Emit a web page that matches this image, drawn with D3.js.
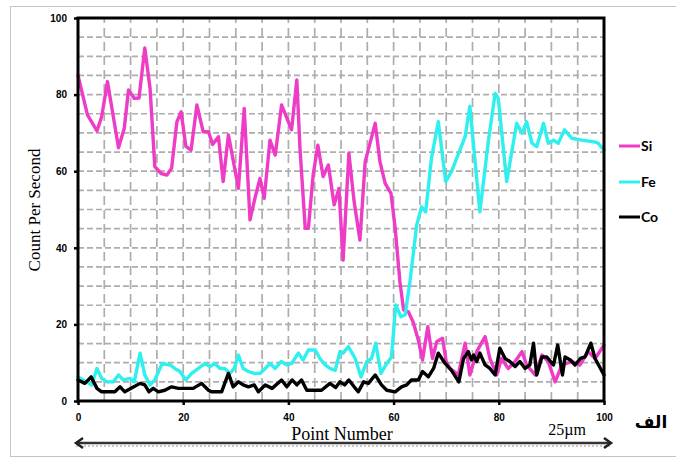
<!DOCTYPE html>
<html>
<head>
<meta charset="utf-8">
<script src="https://cdn.jsdelivr.net/npm/d3@7"></script>
<style>
    body { margin: 0; background: #fff; }
    svg { display: block; }
</style>
</head>
<body>
<div id="chart"></div>
<script>
// Tick labels
const xTicks = [0, 20, 40, 60, 80, 100];
const yTicks = [0, 20, 40, 60, 80, 100];
const gridSteps = d3.range(0, 101, 5);

// Series names
const seriesNames = ['Si', 'Fe', 'Co'];

// [point number, count per second]
const siData = [
    [0, 85], [1.8, 74.7], [3.6, 70.5], [4.5, 74.2], [5.6, 83.4], [7.7, 66.1], [8.8, 71.2], [9.6, 81.2],
    [10.7, 79], [11.6, 79.1], [12.7, 92.2], [13.7, 81.6], [14.6, 61.2], [15.8, 59.4], [16.9, 59],
    [17.8, 60.8], [18.8, 72.9], [19.6, 75.5], [20.5, 66.5], [21.5, 65.5], [22.6, 77.3], [23.8, 70.3],
    [24.8, 70.3], [25.6, 67], [26.7, 69], [27.6, 57.3], [28.6, 69.5], [30.5, 55.5], [31.6, 76.4],
    [32.7, 47.3], [33.7, 53.3], [34.6, 58.1], [35.4, 52.9], [36.5, 68.1], [37.5, 64.2], [38.7, 77.3],
    [40.6, 70.8], [41.6, 83.8], [42.2, 66], [43.2, 45.1], [43.8, 45.1], [44.7, 59], [45.6, 66.8],
    [46.6, 58.6], [47.6, 61.6], [48.7, 51.2], [49.6, 55.5], [50.4, 36.8], [51.5, 64.7], [52.5, 52],
    [53.6, 42], [54.6, 62.5], [56.5, 72.5], [57.4, 62.5], [58.4, 56.8], [59.5, 54.2], [60.3, 45.1],
    [61.2, 31.1], [61.9, 23.8], [62.8, 23.3], [63.7, 20.7], [64.7, 15.9], [65.5, 10.7], [66.5, 19.4],
    [67.4, 11.1], [68.2, 15.5], [69.3, 16.4], [70, 10.3], [70.7, 8.5], [72.3, 6.8], [73.6, 15.1],
    [74.5, 6.8], [75.8, 12.9], [77.4, 16.8], [78.3, 11.1], [79.6, 6.8], [80.5, 11.1], [81.8, 8.5],
    [83.1, 10.3], [84.4, 12.9], [85.3, 9.4], [86.9, 6.8], [88.2, 12], [89.4, 10.3], [90.7, 5],
    [92, 9.4], [93.9, 10.3], [95.4, 9.4], [97, 12.9], [98.3, 11.1], [100, 14.6]
];

const feData = [
    [0, 6.3], [1.6, 5], [2.6, 4.2], [3.6, 8.5], [4.5, 5.9], [5.5, 5], [6.7, 5], [7.7, 6.8], [8.6, 5.5],
    [9.9, 5.9], [10.7, 5], [11.8, 12.5], [12.7, 6.8], [13.7, 4.2], [14.6, 5.5], [16, 9.8], [17.5, 9.4],
    [18.4, 8.5], [19.4, 7.7], [20.5, 5.5], [21.6, 7.2], [22.9, 8.5], [24.1, 9.8], [25.1, 9], [26, 9.8],
    [27, 8.5], [27.9, 8.5], [28.9, 7.2], [29.7, 8.5], [30.5, 12], [31.4, 8.5], [32.4, 7.7], [33.5, 7.2],
    [34.6, 7.2], [35.6, 8.5], [36.5, 9.8], [37.5, 8.5], [38.6, 10.3], [39.7, 9.4], [40.6, 9.8],
    [41.9, 12.5], [42.8, 10.7], [43.8, 13.3], [45.1, 13.3], [46, 11.1], [47, 9.4], [47.9, 8.5],
    [48.9, 8], [49.8, 12.9], [50.4, 12.5], [51.4, 14.2], [52.7, 11.1], [53.8, 6.3], [54.9, 10.3],
    [55.8, 11.1], [56.6, 15.1], [57.6, 7.2], [58.7, 9.8], [59.6, 11.5], [60.4, 25.1], [61.4, 22],
    [62.2, 22.5], [63.1, 31.1], [64.4, 46], [65.3, 50.7], [66.1, 49.4], [67.2, 63.4], [68.5, 72.9],
    [69.9, 57.3], [71, 59.9], [72.6, 65.5], [73.6, 69], [74.5, 77], [76.4, 49.4], [78, 67.7],
    [79.3, 80.3], [79.9, 79], [81.5, 57.3], [83.4, 72.5], [84.4, 69.9], [85.3, 72.9], [86.3, 67.3],
    [87.2, 66.4], [88.5, 72.5], [89.4, 67.3], [90.4, 68.1], [91.3, 67.3], [92.5, 70.8], [93.9, 68.6],
    [95.8, 68.1], [98, 67.7], [98.9, 67.3], [100, 65.5]
];

const coData = [
    [0, 5.5], [1.3, 4.6], [2.5, 6.3], [3.6, 3.3], [4.5, 2.4], [7, 2.4], [8, 3.7], [8.9, 2.4], [10.1, 3.3],
    [11.8, 4.6], [12.7, 4.2], [13.5, 2.4], [14.3, 3.3], [15.3, 2.4], [16.5, 2.8], [17.8, 3.7],
    [19.1, 3.3], [21.9, 3.3], [23.5, 4.6], [24.8, 2.8], [25.4, 2.4], [27.3, 2.4], [28.6, 7.2],
    [29.5, 3.7], [30.5, 5], [31.4, 4.2], [32.4, 3.7], [33.5, 4.2], [34.3, 2.4], [35.6, 4.2], [36.9, 3.3],
    [38.7, 5.5], [39.7, 3.7], [40.7, 5.5], [41.6, 4.2], [42.5, 5.5], [43.5, 2.8], [46.3, 2.8],
    [47.9, 4.6], [49, 3.5], [49.8, 5], [50.7, 4.2], [51.5, 5.5], [52.5, 3.7], [53.3, 2.4], [54.3, 5],
    [55.2, 4.6], [56.5, 6.8], [57.7, 4.2], [58.7, 2.8], [60.3, 2.4], [61.5, 3.7], [62.5, 4.2],
    [63.4, 5.5], [64.7, 5.5], [65.5, 7.7], [66.6, 6.3], [67.6, 8.5], [68.5, 12.5], [69.8, 9.8],
    [71, 8], [72.4, 5], [73.3, 11.1], [74.2, 12.9], [74.8, 10.7], [75.2, 12], [75.8, 10.3],
    [76.4, 12.5], [77.4, 9.4], [78.3, 8.5], [79.3, 6.8], [80.2, 13.8], [81.2, 11.1], [82.1, 10.3],
    [83.1, 9], [84, 10.3], [85, 8.5], [85.9, 9.4], [86.6, 15.1], [87.2, 6.8], [88.2, 11.5], [89.1, 11.5],
    [90.4, 9.4], [91.2, 14.6], [92.1, 6.8], [92.6, 11.5], [93.6, 10.7], [94.5, 9.4], [95.5, 11.1],
    [96.4, 11.5], [97.5, 15.1], [98.3, 11.1], [100, 6.8]
];

const seriesColors = ['#ee3cc6', '#2ff0ee', '#000000'];

const width = 676;
const height = 461;

const svg = d3.select('#chart')
    .append('svg')
    .attr('width', width)
    .attr('height', height);

// Outer frame
svg.append('rect')
    .attr('x', 10.5)
    .attr('y', 6.5)
    .attr('width', 700)
    .attr('height', 450)
    .attr('fill', 'none')
    .attr('stroke', '#c4c4c4');

// Scales
const x = d3.scaleLinear().domain([0, 100]).range([78, 604]);
const y = d3.scaleLinear().domain([0, 100]).range([401, 18]);

// Dashed grid
const grid = svg.append('g').attr('class', 'grid')
    .attr('stroke', '#adadad')
    .attr('stroke-width', 1.7);

grid.selectAll('line.h')
    .data(gridSteps)
    .join('line')
    .attr('class', 'h')
    .attr('x1', x(0))
    .attr('x2', x(100))
    .attr('y1', d => y(d))
    .attr('y2', d => y(d))
    .attr('stroke-dasharray', '6,3');

grid.selectAll('line.v')
    .data(gridSteps)
    .join('line')
    .attr('class', 'v')
    .attr('y1', y(0))
    .attr('y2', y(100))
    .attr('x1', d => x(d))
    .attr('x2', d => x(d))
    .attr('stroke-dasharray', '9,5');

// Lines
const line = d3.line()
    .x(d => x(d[0]))
    .y(d => y(d[1]));

const allSeries = [siData, feData, coData];

svg.append('g')
    .attr('class', 'lines')
    .selectAll('path')
    .data(allSeries)
    .join('path')
    .attr('d', line)
    .attr('fill', 'none')
    .attr('stroke', (d, i) => seriesColors[i])
    .attr('stroke-width', 3.4)
    .attr('stroke-linejoin', 'round')
    .attr('stroke-linecap', 'round');

// Plot frame
svg.append('rect')
    .attr('x', x(0))
    .attr('y', y(100))
    .attr('width', x(100) - x(0))
    .attr('height', y(0) - y(100))
    .attr('fill', 'none')
    .attr('stroke', '#000')
    .attr('stroke-width', 3);

// Axes
const yAxis = svg.append('g')
    .attr('transform', `translate(${x(0)},0)`)
    .call(d3.axisLeft(y).tickValues(yTicks).tickSize(4).tickPadding(7));

const xAxis = svg.append('g')
    .attr('transform', `translate(0,${y(0)})`)
    .call(d3.axisBottom(x).tickValues(xTicks).tickSize(4).tickPadding(9));

[xAxis, yAxis].forEach(axis => {
    axis.select('.domain').remove();
    axis.selectAll('.tick line').attr('stroke', '#000').attr('stroke-width', 2.5);
    axis.selectAll('.tick text')
        .attr('fill', '#000')
        .style('font-family', '"Liberation Sans", Arial, sans-serif')
        .style('font-size', '10px')
        .style('font-weight', 'bold');
});

// Y axis title
svg.append('text')
    .attr('transform', 'translate(40,210) rotate(-90)')
    .attr('text-anchor', 'middle')
    .style('font-family', '"Liberation Serif", "Times New Roman", serif')
    .style('font-size', '17px')
    .text('Count Per Second');

// Bottom arrow
const arrowY = 443;
svg.append('line')
    .attr('x1', x(0) - 2)
    .attr('x2', x(100) + 7)
    .attr('y1', arrowY + 3)
    .attr('y2', arrowY + 3)
    .attr('stroke', '#c8c8c8')
    .attr('stroke-width', 2)
    .attr('stroke-dasharray', '2,2');

svg.append('line')
    .attr('x1', x(0) - 2)
    .attr('x2', x(100) + 7)
    .attr('y1', arrowY)
    .attr('y2', arrowY)
    .attr('stroke', '#333')
    .attr('stroke-width', 2.5);

svg.append('path')
    .attr('d', `M${x(0) + 5},${arrowY - 5}L${x(0) - 2},${arrowY}L${x(0) + 5},${arrowY + 5}`
        + `M${x(100)},${arrowY - 5}L${x(100) + 7},${arrowY}L${x(100)},${arrowY + 5}`)
    .attr('fill', 'none')
    .attr('stroke', '#222')
    .attr('stroke-width', 2.5);

// X axis title
svg.append('text')
    .attr('x', 342)
    .attr('y', 440)
    .attr('text-anchor', 'middle')
    .style('font-family', '"Liberation Serif", "Times New Roman", serif')
    .style('font-size', '18px')
    .text('Point Number');

svg.append('text')
    .attr('x', 567)
    .attr('y', 435)
    .attr('text-anchor', 'middle')
    .style('font-family', '"Liberation Serif", "Times New Roman", serif')
    .style('font-size', '16px')
    .text('25\u00b5m');

svg.append('text')
    .attr('x', 651)
    .attr('y', 428)
    .attr('text-anchor', 'middle')
    .style('font-family', '"DejaVu Sans", sans-serif')
    .style('font-size', '17px')
    .style('font-weight', 'bold')
    .text('الف');

// Legend
const legendY = [146, 182, 217];
const legend = svg.append('g').attr('class', 'legend');

seriesNames.forEach((name, i) => {
    legend.append('line')
        .attr('x1', 619)
        .attr('x2', 640)
        .attr('y1', legendY[i])
        .attr('y2', legendY[i])
        .attr('stroke', seriesColors[i])
        .attr('stroke-width', 3);

    legend.append('text')
        .attr('x', 641)
        .attr('y', legendY[i])
        .attr('dy', '0.36em')
        .style('font-family', 'Lato, "Liberation Sans", sans-serif')
        .style('font-size', '14px')
        .style('font-weight', 'bold')
        .text(name);
});
</script>
</body>
</html>
